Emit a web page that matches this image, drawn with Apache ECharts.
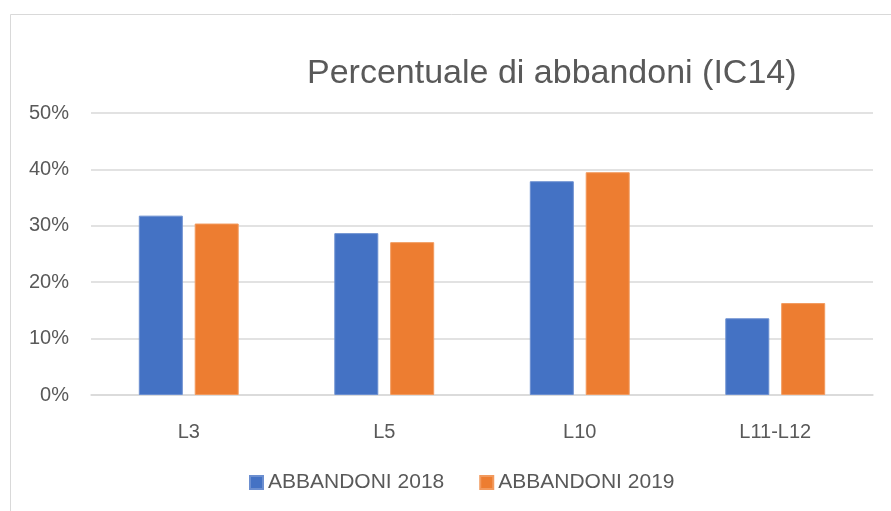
<!DOCTYPE html>
<html>
<head>
<meta charset="utf-8">
<script src="https://cdn.jsdelivr.net/npm/echarts@6/dist/echarts.min.js"></script>
<style>
html,body{margin:0;padding:0;background:#fff;}
#chart{width:891px;height:511px;}
</style>
</head>
<body>
<div id="chart"></div>
<script>
const categories = ['L3', 'L5', 'L10', 'L11-L12'];
const abbandoni2018 = [31.8, 28.7, 37.9, 13.6];
const abbandoni2019 = [30.4, 27.1, 39.5, 16.3];
const seriesNames = ['ABBANDONI 2018', 'ABBANDONI 2019'];
const titleText = 'Percentuale di abbandoni (IC14)';

const chart = echarts.init(document.getElementById('chart'), null, {renderer: 'canvas'});
const font = 'Liberation Sans, Arial, sans-serif';
chart.setOption({
  animation: false,
  backgroundColor: '#ffffff',
  graphic: [{
    type: 'rect',
    shape: {x: 10.5, y: 14.5, width: 900, height: 520},
    style: {fill: 'none', stroke: '#d9d9d9', lineWidth: 1},
    silent: true
  }],
  title: {
    text: titleText,
    left: 307,
    top: 57,
    padding: 0,
    textStyle: {fontFamily: font, fontSize: 34, fontWeight: 'normal', color: '#595959'}
  },
  legend: {
    data: seriesNames,
    left: 249,
    top: 472,
    padding: 0,
    itemWidth: 13,
    itemHeight: 13,
    itemGap: 35,
    icon: 'rect',
    textStyle: {fontFamily: font, fontSize: 21, color: '#595959'}
  },
  grid: {left: 91, right: 18, top: 113, bottom: 116, containLabel: false},
  xAxis: {
    type: 'category',
    data: categories,
    axisLine: {show: true, lineStyle: {color: '#d9d9d9', width: 1.5}},
    axisTick: {show: false},
    axisLabel: {fontFamily: font, fontSize: 20, color: '#595959', margin: 27}
  },
  yAxis: {
    type: 'value',
    min: 0,
    max: 50,
    interval: 10,
    axisLine: {show: false},
    axisTick: {show: false},
    splitLine: {lineStyle: {color: '#d9d9d9', width: 1.5}},
    axisLabel: {fontFamily: font, fontSize: 20, color: '#595959', margin: 22, formatter: '{value}%'}
  },
  series: [
    {name: seriesNames[0], type: 'bar', data: abbandoni2018, barWidth: 44, barGap: '27%',
     itemStyle: {color: '#4472C4', borderColor: '#6c8fd0', borderWidth: 1}},
    {name: seriesNames[1], type: 'bar', data: abbandoni2019, barWidth: 44, barGap: '27%',
     itemStyle: {color: '#ED7D31', borderColor: '#f29a5e', borderWidth: 1}}
  ]
});
</script>
</body>
</html>
